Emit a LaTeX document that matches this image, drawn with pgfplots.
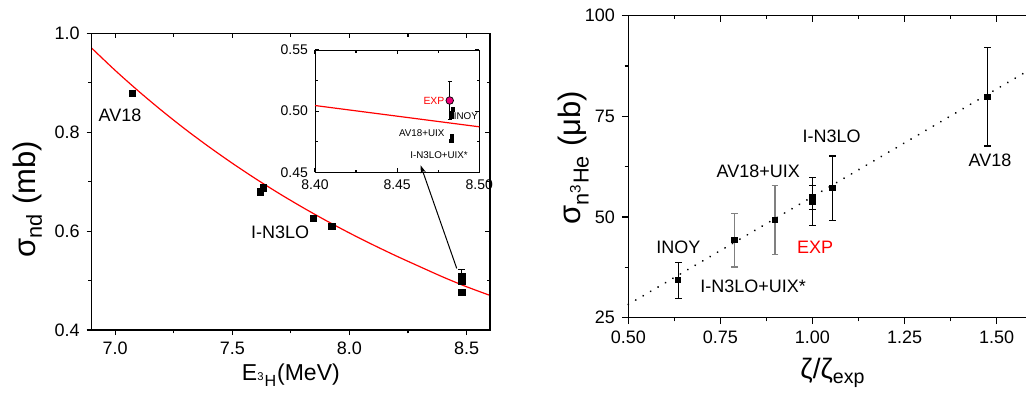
\documentclass[border=0pt]{standalone}
\usepackage{fontspec}
\setmainfont{Liberation Sans}
\usepackage{pgfplots}
\pgfplotsset{compat=1.18}
\usetikzlibrary{arrows.meta}
\definecolor{exppink}{RGB}{235,0,120}
\pgfplotsset{
  every axis/.append style={/pgf/number format/assume math mode=true, axis line style={line width=0.6pt}, every tick/.style={black, line width=0.6pt}},
  mirror/.style={scale only axis, anchor=south west, tick align=inside, xtick pos=top, ytick pos=right, xticklabels={}, yticklabels={}},
}
\begin{document}
\begin{tikzpicture}
\useasboundingbox (0,0) rectangle (513pt,196pt);

% ---------------- left main panel ----------------
\begin{axis}[
  at={(45.85pt,31pt)}, anchor=south west, scale only axis,
  width=199.15pt, height=148.35pt,
  xmin=6.9, xmax=8.6, ymin=0.4, ymax=1.0,
  xtick={7.0,7.5,8.0,8.5}, ytick={0.4,0.6,0.8,1.0},
  minor xtick={7.25,7.75,8.25}, minor ytick={0.5,0.7,0.9},
  tick align=outside, xtick pos=bottom, ytick pos=left,
  major tick length=2.5pt, minor tick length=1.7pt,
  ticklabel style={font=\fontsize{9}{10}\selectfont},
  xticklabel style={/pgf/number format/.cd, fixed, fixed zerofill, precision=1},
  yticklabel style={/pgf/number format/.cd, fixed, fixed zerofill, precision=1},
  xlabel={E\textsubscript{\textsuperscript{3}H}(MeV)},
  xlabel style={at={(axis description cs:0.5,-0.152)}, anchor=center, font=\fontsize{11.5}{13}\selectfont},
  ylabel={σ\textsubscript{nd} (mb)},
  ylabel style={at={(axis description cs:-0.16,0.44)}, anchor=center, font=\fontsize{15.5}{17}\selectfont},
  clip=false,
]
\addplot[red, line width=0.6pt, smooth] coordinates {
 (6.9,0.970) (7.0,0.9251) (7.1,0.8830) (7.2,0.8433) (7.3,0.8058) (7.4,0.7706)
 (7.5,0.7373) (7.6,0.7058) (7.7,0.6761) (7.8,0.6480) (7.9,0.6214) (8.0,0.5962)
 (8.1,0.5724) (8.2,0.5497) (8.3,0.5282) (8.4,0.5070) (8.5,0.4875) (8.6,0.470)};
\addplot[only marks, mark=square*, mark size=1.6pt, black,
  error bars/.cd, y dir=plus, y explicit,
  error bar style={line width=0.6pt},
  error mark options={rotate=90, mark size=1.7pt, line width=0.6pt}]
  coordinates {(8.48,0.507) +- (0,0.016)};
\addplot[only marks, mark=square*, mark size=1.6pt, black] coordinates {
 (7.074,0.878) (7.62,0.679) (7.634,0.687) (7.847,0.626) (7.926,0.609)
 (8.48,0.499) (8.48,0.476)};
\node[font=\fontsize{9}{10}\selectfont] at (axis cs:7.021,0.834) {AV18};
\node[font=\fontsize{9}{10}\selectfont] at (axis cs:7.704,0.598) {I-N3LO};
\draw[-{Stealth[length=4pt,width=2.6pt]}, line width=0.5pt] (axis cs:8.458,0.5246) -- (axis cs:8.304,0.733);
\end{axis}
\begin{axis}[mirror, at={(45.85pt,31pt)}, width=199.15pt, height=148.35pt,
  xmin=6.9, xmax=8.6, ymin=0.4, ymax=1.0,
  xtick={7.0,7.5,8.0,8.5}, ytick={0.4,0.6,0.8,1.0},
  minor xtick={7.25,7.75,8.25}, minor ytick={0.5,0.7,0.9},
  major tick length=2.5pt, minor tick length=1.7pt]
\end{axis}

% ---------------- inset ----------------
\begin{axis}[
  at={(157.5pt,109.85pt)}, anchor=south west, scale only axis,
  width=82.15pt, height=61.15pt,
  xmin=8.40, xmax=8.50, ymin=0.45, ymax=0.55,
  xtick={8.40,8.45,8.50}, ytick={0.45,0.50,0.55},
  minor xtick={8.425,8.475}, minor ytick={0.475,0.525},
  tick align=inside, major tick length=2pt, minor tick length=1.3pt,
  axis line style={line width=0.5pt},
  ticklabel style={font=\fontsize{7}{8}\selectfont},
  xticklabel style={/pgf/number format/.cd, fixed, fixed zerofill, precision=2},
  yticklabel style={/pgf/number format/.cd, fixed, fixed zerofill, precision=2},
  clip=false,
]
\addplot[red, line width=0.6pt] coordinates {(8.40,0.5046) (8.45,0.4959) (8.50,0.4872)};
\addplot[only marks, mark=square*, mark size=0.8pt, black] coordinates {
 (8.4837,0.5015) (8.4832,0.4985) (8.4830,0.4955) (8.4835,0.4795) (8.4832,0.4775) (8.4830,0.4755)};
\addplot[only marks, mark=*, mark size=1.9pt, mark options={fill=exppink, draw=black, line width=0.35pt},
  error bars/.cd, y dir=both, y explicit,
  error bar style={line width=0.45pt, black},
  error mark options={rotate=90, mark size=1.1pt, line width=0.45pt, black}]
  coordinates {(8.482,0.5087) +- (0,0.0153)};
\node[font=\fontsize{5.2}{6}\selectfont, text=red] at (axis cs:8.4724,0.5085) {EXP};
\node[font=\fontsize{4.9}{6}\selectfont] at (axis cs:8.4918,0.4957) {INOY};
\node[font=\fontsize{4.9}{6}\selectfont] at (axis cs:8.465,0.482) {AV18+UIX};
\node[font=\fontsize{4.9}{6}\selectfont] at (axis cs:8.4755,0.4644) {I-N3LO+UIX*};
\end{axis}

% ---------------- right panel ----------------
\begin{axis}[
  at={(314.15pt,37.15pt)}, anchor=south west, scale only axis,
  width=202.6pt, height=151pt,
  xmin=0.5, xmax=1.6, ymin=25, ymax=100,
  xtick={0.5,0.75,1.0,1.25,1.5}, ytick={25,50,75,100},
  minor xtick={0.625,0.875,1.125,1.375}, minor ytick={37.5,62.5,87.5},
  tick align=outside, xtick pos=bottom, ytick pos=left,
  major tick length=3.2pt, minor tick length=1.8pt,
  ticklabel style={font=\fontsize{9}{10}\selectfont},
  xticklabel style={/pgf/number format/.cd, fixed, fixed zerofill, precision=2},
  xlabel={ζ/ζ\textsubscript{exp}},
  xlabel style={at={(axis description cs:0.505,-0.183)}, anchor=center, font=\fontsize{14}{16}\selectfont},
  ylabel={σ\textsubscript{n\textsuperscript{3}He} (μb)},
  ylabel style={at={(axis description cs:-0.136,0.53)}, anchor=center, font=\fontsize{15.5}{17}\selectfont},
  clip=false,
]
\addplot[black, line width=1pt, line cap=round, dash pattern=on 0.01pt off 4.3pt] coordinates {(0.5,28.3) (1.6,87.15)};
\addplot[only marks, mark=square*, mark size=1.3pt, black,
  error bars/.cd, y dir=both, y explicit,
  error bar style={line width=0.55pt, black},
  error mark options={rotate=90, mark size=1.65pt, line width=0.55pt, black}]
  coordinates {
  (0.6357,34.35) +- (0,4.47)
  (1.0,53.85) +- (0,6.0)
  (1.0,54.9) +- (0,3.0)
  (1.0538,57.2) +- (0,7.95)
  (1.4747,79.84) +- (0,12.2)};
\addplot[only marks, mark=square*, mark size=1.3pt, black,
  error bars/.cd, y dir=both, y explicit,
  error bar style={line width=0.55pt, gray},
  error mark options={rotate=90, mark size=1.65pt, line width=0.55pt, gray}]
  coordinates {
  (0.7878,44.29) +- (0,6.7)
  (0.8982,49.3) +- (0,8.56)};
\node[font=\fontsize{9}{10}\selectfont] at (axis cs:0.636,42.5) {INOY};
\node[font=\fontsize{9}{10}\selectfont] at (axis cs:0.839,32.9) {I-N3LO+UIX*};
\node[font=\fontsize{9}{10}\selectfont] at (axis cs:0.853,61.3) {AV18+UIX};
\node[font=\fontsize{9}{10}\selectfont] at (axis cs:1.052,70.0) {I-N3LO};
\node[font=\fontsize{9}{10}\selectfont, text=red] at (axis cs:1.007,42.6) {EXP};
\node[font=\fontsize{9}{10}\selectfont] at (axis cs:1.482,64.0) {AV18};
\end{axis}
\begin{axis}[mirror, at={(314.15pt,37.15pt)}, width=202.6pt, height=151pt,
  xmin=0.5, xmax=1.6, ymin=25, ymax=100,
  xtick={0.5,0.75,1.0,1.25,1.5}, ytick={25,50,75,100},
  minor xtick={0.625,0.875,1.125,1.375}, minor ytick={37.5,62.5,87.5},
  major tick length=3.2pt, minor tick length=1.8pt]
\end{axis}
\end{tikzpicture}
\end{document}
